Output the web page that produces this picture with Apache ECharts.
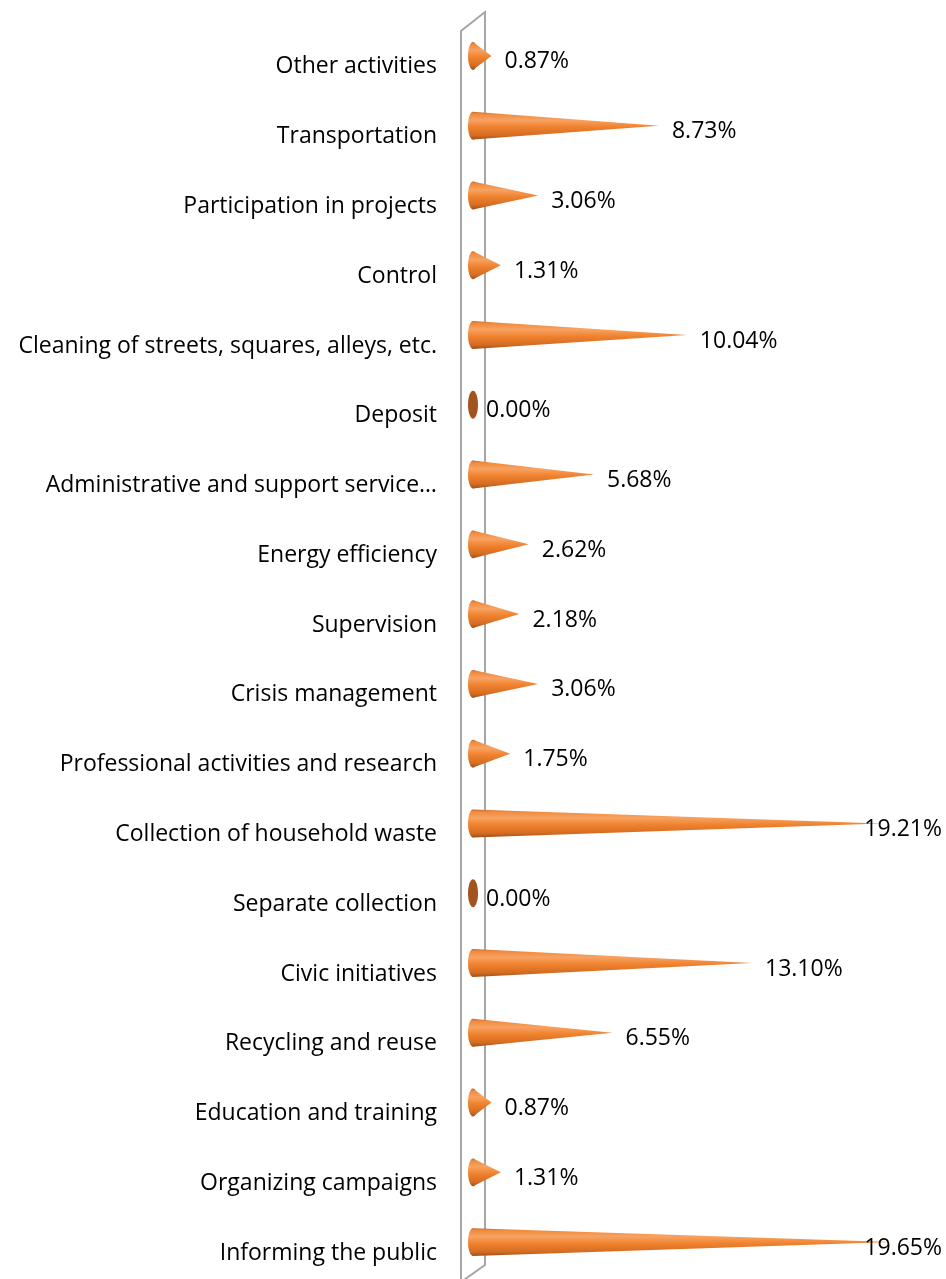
<!DOCTYPE html>
<html><head><meta charset="utf-8">
<script src="https://cdn.jsdelivr.net/npm/echarts@6/dist/echarts.min.js"></script>
<style>html,body{margin:0;padding:0;background:#fff}#c{width:946px;height:1279px}</style>
</head><body><div id="c"></div>
<script>
// top-to-bottom order
const categories = [
  'Other activities',
  'Transportation',
  'Participation in projects',
  'Control',
  'Cleaning of streets, squares, alleys, etc.',
  'Deposit',
  'Administrative and support service\u2026',
  'Energy efficiency',
  'Supervision',
  'Crisis management',
  'Professional activities and research',
  'Collection of household waste',
  'Separate collection',
  'Civic initiatives',
  'Recycling and reuse',
  'Education and training',
  'Organizing campaigns',
  'Informing the public'
];
const values = [0.87, 8.73, 3.06, 1.31, 10.04, 0.00, 5.68, 2.62, 2.18, 3.06, 1.75, 19.21, 0.00, 13.10, 6.55, 0.87, 1.31, 19.65];
const xMin = 0, xMax = 20;

const FONT_FAMILY = '"Open Sans", "Noto Sans", sans-serif';
const FS = 23;
const measureCtx = document.createElement('canvas').getContext('2d');
measureCtx.font = FS + 'px ' + FONT_FAMILY;

const chart = echarts.init(document.getElementById('c'), null, {renderer: 'canvas'});

function coneGradient() {
  return new echarts.graphic.LinearGradient(0, 0, 0, 1, [
    {offset: 0, color: '#c8682a'},
    {offset: 0.08, color: '#f08a3c'},
    {offset: 0.3, color: '#f8a262'},
    {offset: 0.55, color: '#f0822e'},
    {offset: 0.85, color: '#d46c22'},
    {offset: 1, color: '#9e4f1a'}
  ]);
}

function renderCone(params, api) {
  const v = api.value(0);
  const idx = api.value(1);
  const p0 = api.coord([0, idx]);
  const p1 = api.coord([v, idx]);
  const band = api.size([0, 1])[1];
  const h = band * 0.2;
  const cx = p0[0], cy = p0[1];
  const children = [];
  if (v <= 0) {
    children.push({type: 'ellipse', shape: {cx: cx, cy: cy, rx: 5, ry: h}, style: {fill: '#a3531d'}});
  } else {
    const grad = coneGradient();
    children.push({type: 'ellipse', shape: {cx: cx, cy: cy, rx: 5, ry: h}, style: {fill: grad}});
    children.push({type: 'polygon', shape: {points: [[cx, cy - h], [p1[0], cy], [cx, cy + h]]}, style: {fill: grad}});
  }
  const txt = v.toFixed(2) + '%';
  const w = measureCtx.measureText(txt).width;
  let tx = p1[0] + 13;
  if (tx + w > 942) tx = 942 - w;
  children.push({type: 'text', style: {text: txt, x: tx, y: cy + 6, fill: '#000', font: FS + 'px ' + FONT_FAMILY, align: 'left', verticalAlign: 'middle'}, z2: 10});
  return {type: 'group', children: children};
}

chart.setOption({
  animation: false,
  backgroundColor: '#fff',
  grid: {left: 473, right: 47, top: 21, bottom: 2, containLabel: false},
  xAxis: {type: 'value', min: xMin, max: xMax, show: false},
  yAxis: {
    type: 'category', data: categories, inverse: true,
    axisLine: {show: false}, axisTick: {show: false}, splitLine: {show: false},
    axisLabel: {color: '#000', fontSize: FS, fontFamily: FONT_FAMILY, margin: 36, interval: 0,
      verticalAlign: 'top', lineHeight: 22}
  },
  graphic: [{
    type: 'polyline', z: 0,
    shape: {points: [[461, 1290], [461, 31], [485, 12], [485, 1265], [461, 1282]]},
    style: {stroke: '#a6a6a6', lineWidth: 2, fill: null}
  }],
  series: [{
    type: 'custom', z: 5,
    renderItem: renderCone,
    encode: {x: 0, y: 1},
    data: values.map((v, i) => [v, i]),
    clip: false
  }]
});
</script>
</body></html>
